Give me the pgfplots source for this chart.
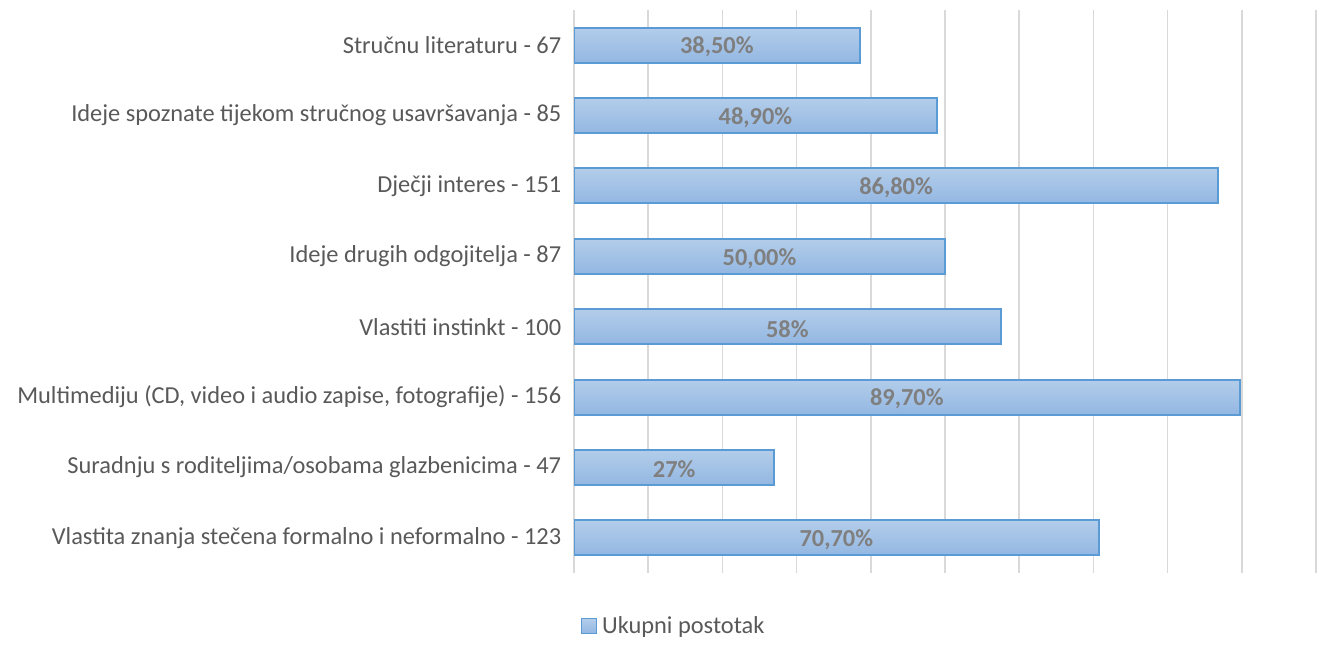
\documentclass[border=0pt]{standalone}
\usepackage{pgfplots}
\pgfplotsset{compat=1.18}
\usepackage{pgfplotstable}
\usepackage{fontspec}
\setmainfont{Carlito}
\definecolor{barTop}{HTML}{B3CDEA}
\definecolor{barBot}{HTML}{93B7E2}
\definecolor{barEdge}{HTML}{5B9BD5}
\definecolor{txt}{HTML}{595959}
\definecolor{lbl}{HTML}{7F7F7F}
\definecolor{gridc}{HTML}{D9D9D9}
\pgfplotstableread{
y val half lab
0 70.7 35.35 70,70\%
1 27.0 13.5 27\%
2 89.7 44.85 89,70\%
3 57.5 28.75 58\%
4 50.0 25.0 50,00\%
5 86.8 43.4 86,80\%
6 48.9 24.45 48,90\%
7 38.5 19.25 38,50\%
}\datatab
\pgfplotsset{onebar/.style={xbar, bar width=26.25pt, bar shift=0pt, draw=barEdge, line width=1.5pt, top color=barTop, bottom color=barBot, forget plot}}
\begin{document}
\begin{tikzpicture}
\path[use as bounding box] (0,0) rectangle (990pt,495pt);
\begin{axis}[
  at={(430.5pt,65.25pt)}, anchor=south west,
  scale only axis, width=556.5pt, height=422.25pt,
  xmin=0, xmax=100, ymin=-0.5, ymax=7.5,
  xtick={0,10,...,100}, xticklabels={},
  ytick={0,...,7},
  yticklabels={
    Vlastita znanja stečena formalno i neformalno - 123,
    Suradnju s roditeljima/osobama glazbenicima - 47,
    {Multimediju (CD, video i audio zapise, fotografije) - 156},
    Vlastiti instinkt - 100,
    Ideje drugih odgojitelja - 87,
    Dječji interes - 151,
    Ideje spoznate tijekom stručnog usavršavanja - 85,
    Stručnu literaturu - 67},
  yticklabel style={font=\fontsize{18.3}{21}\selectfont, text=txt, xshift=-6pt},
  major tick length=0pt,
  axis line style={draw=none},
  xmajorgrids, major grid style={gridc, line width=1.3pt},
  legend style={at={(0.135,-0.094)}, anchor=center, draw=none,
    font=\fontsize{18.3}{21}\selectfont, text=txt},
  legend image code/.code={\draw[barEdge, line width=1pt, top color=barTop, bottom color=barBot] (0pt,-5.5pt) rectangle (11pt,5.5pt);\path (13pt,0pt);},
]
\addplot[onebar] coordinates {(70.7,0)};
\addplot[onebar] coordinates {(27.0,1)};
\addplot[onebar] coordinates {(89.7,2)};
\addplot[onebar] coordinates {(57.5,3)};
\addplot[onebar] coordinates {(50.0,4)};
\addplot[onebar] coordinates {(86.8,5)};
\addplot[onebar] coordinates {(48.9,6)};
\addplot[onebar] coordinates {(38.5,7)};
\addlegendimage{draw=barEdge}
\addlegendentry{Ukupni postotak}
\addplot[only marks, mark=none, forget plot,
  point meta=explicit symbolic,
  nodes near coords, nodes near coords align={center},
  every node near coord/.append style={anchor=center, yshift=-1.5pt, font=\fontsize{18.3}{21}\selectfont\bfseries, text=lbl}]
  table[x=half, y=y, meta=lab] {\datatab};
\end{axis}
\end{tikzpicture}
\end{document}
